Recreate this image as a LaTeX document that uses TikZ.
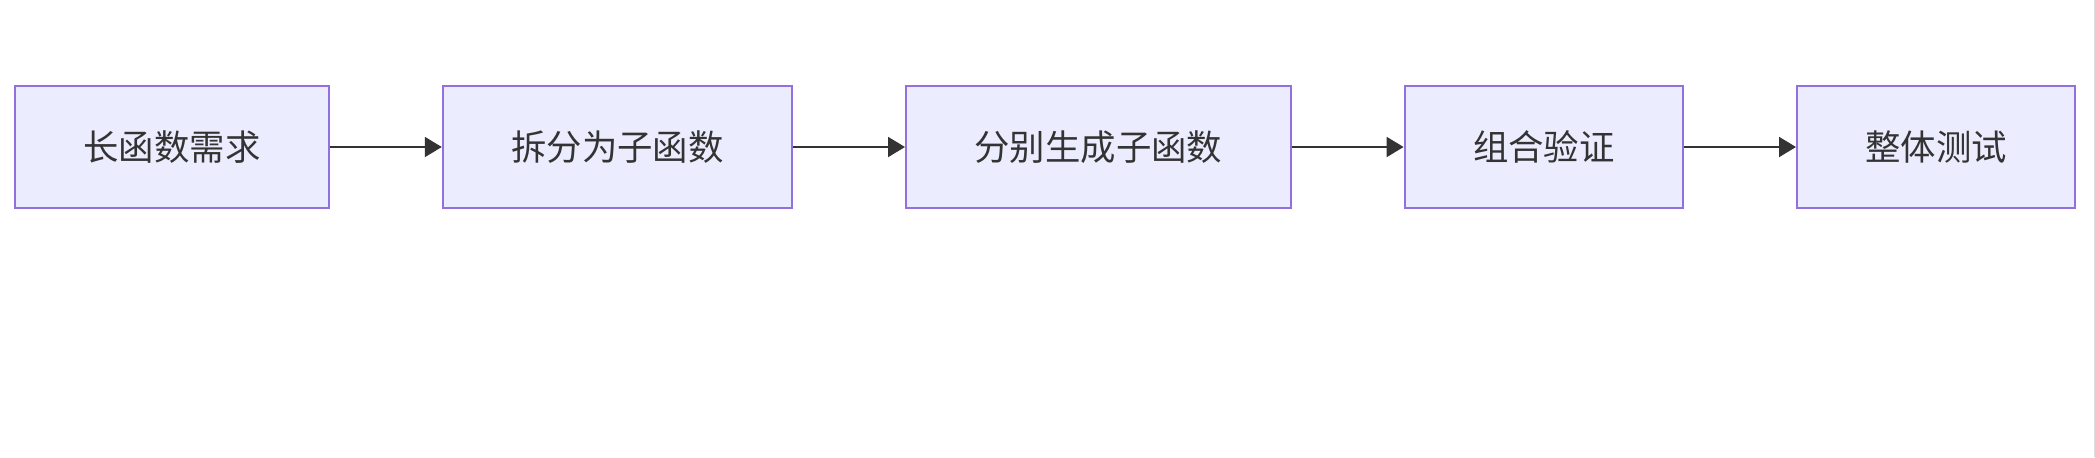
\documentclass[tikz,border=0pt]{standalone}
\usepackage{fontspec}
\setmainfont{Noto Sans CJK SC}
\usetikzlibrary{arrows.meta,positioning}
\definecolor{boxfill}{HTML}{ECECFF}
\definecolor{boxline}{HTML}{9370DB}
\definecolor{myink}{HTML}{333333}
\definecolor{edgegray}{HTML}{DDDDDD}

\begin{document}
\begin{tikzpicture}[
  x=0.5pt, y=-0.5pt,
  stage/.style={draw=boxline, line width=1pt, fill=boxfill, text=myink,
                font=\fontsize{17.7}{21}\selectfont,
                minimum height=61pt, inner xsep=34.2pt, inner ysep=0pt},
  flow/.style ={draw=myink, line width=1pt, -{Triangle[length=8.5pt,width=10pt]}},
  node distance=56pt,
]
\useasboundingbox (0,0) rectangle (2095,457);

% ==================================================== the chain of steps
\node[stage, anchor=west] (need)   at (14,147) {长函数需求};
\node[stage, right=of need]  (split)  {拆分为子函数};
\node[stage, right=of split] (gen)    {分别生成子函数};
\node[stage, right=of gen]   (verify) {组合验证};
\node[stage, right=of verify] (test)  {整体测试};

% ==================================================== arrows between them
\draw[flow] (need) -- (split);
\draw[flow] (split) -- (gen);
\draw[flow] (gen) -- (verify);
\draw[flow] (verify) -- (test);

% thin frame edge on the right
\draw[edgegray, line width=0.5pt] (2094,0) -- (2094,457);
\end{tikzpicture}
\end{document}
